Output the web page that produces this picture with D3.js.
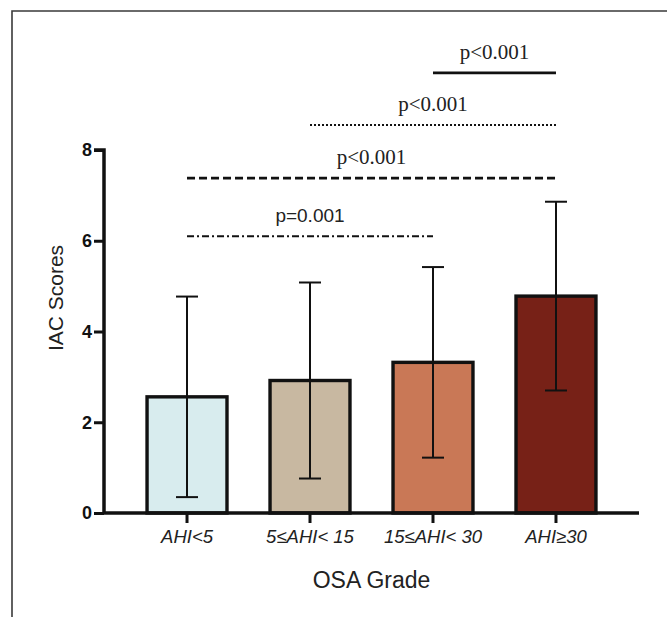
<!DOCTYPE html>
<html>
<head>
<meta charset="utf-8">
<script src="https://cdn.jsdelivr.net/npm/d3@7"></script>
<style>
  body { margin: 0; background: #fff; }
  svg { display: block; }
</style>
</head>
<body>
<svg id="chart" width="667" height="617"></svg>
<script>
// data
const categories = ['AHI<5', '5≤AHI< 15', '15≤AHI< 30', 'AHI≥30'];
const means = [2.56, 2.92, 3.32, 4.78];
const sds = [2.21, 2.16, 2.1, 2.08];
const barColors = ['#d8ecee', '#c8b8a1', '#c97856', '#772117'];
const yTicks = [0, 2, 4, 6, 8];

// significance brackets: from bar, to bar, height (in score units), label
const compFrom = [0, 0, 1, 2];
const compTo = [2, 3, 3, 3];
const compLevel = [6.1, 7.38, 8.55, 9.7];
const compLabels = ['p=0.001', 'p<0.001', 'p<0.001', 'p<0.001'];

const width = 667;
const height = 617;
const margin = { top: 150, right: 28, bottom: 104, left: 104 };

const svg = d3.select('#chart');

// outer frame (top and left edges only)
svg.append('path')
  .attr('d', 'M12,617 L12,11 L667,11')
  .attr('fill', 'none')
  .attr('stroke', '#3a3a3a')
  .attr('stroke-width', 1.6);

const x = d3.scaleBand()
  .domain(categories)
  .range([margin.left, width - margin.right])
  .padding(0.35);

const y = d3.scaleLinear()
  .domain([0, 8])
  .range([height - margin.bottom, margin.top]);

// bars
svg.selectAll('.bar')
  .data(categories)
  .enter()
  .append('rect')
  .attr('class', 'bar')
  .attr('x', d => x(d))
  .attr('y', (d, i) => y(means[i]))
  .attr('width', x.bandwidth())
  .attr('height', (d, i) => y(0) - y(means[i]))
  .attr('fill', (d, i) => barColors[i])
  .attr('stroke', '#111')
  .attr('stroke-width', 3.4);

// error bars
const err = svg.selectAll('.err')
  .data(categories)
  .enter()
  .append('g')
  .attr('class', 'err')
  .attr('transform', d => `translate(${x(d) + x.bandwidth() / 2},0)`)
  .attr('stroke', '#111')
  .attr('stroke-width', 2);

err.append('line')
  .attr('y1', (d, i) => y(means[i] + sds[i]))
  .attr('y2', (d, i) => y(means[i] - sds[i]));
err.append('line')
  .attr('x1', -11).attr('x2', 11)
  .attr('y1', (d, i) => y(means[i] + sds[i]))
  .attr('y2', (d, i) => y(means[i] + sds[i]));
err.append('line')
  .attr('x1', -11).attr('x2', 11)
  .attr('y1', (d, i) => y(means[i] - sds[i]))
  .attr('y2', (d, i) => y(means[i] - sds[i]));

// axes
const yAxis = svg.append('g')
  .attr('transform', `translate(${margin.left},0)`)
  .call(d3.axisLeft(y).tickValues(yTicks).tickSize(10).tickPadding(2));
const xAxis = svg.append('g')
  .attr('transform', `translate(0,${y(0)})`)
  .call(d3.axisBottom(x).tickSize(10).tickPadding(7).tickSizeOuter(0));

[yAxis, xAxis].forEach(g => {
  g.select('.domain').attr('stroke', '#111').attr('stroke-width', 3.5);
  g.selectAll('.tick line').attr('stroke', '#111').attr('stroke-width', 3);
});
yAxis.select('.domain').attr('d', `M-10,${y(8)}H0V${y(0)}`);
xAxis.select('.domain').attr('d', `M${margin.left},0H${width - margin.right}`);

yAxis.selectAll('.tick text')
  .attr('font-family', 'Liberation Sans, Arial, sans-serif')
  .attr('font-size', 18)
  .attr('font-weight', 'bold')
  .attr('fill', '#111');
xAxis.selectAll('.tick text')
  .attr('font-family', 'Liberation Sans, Arial, sans-serif')
  .attr('font-size', 18.5)
  .attr('font-style', 'italic')
  .attr('fill', '#222');

// axis titles
svg.append('text')
  .attr('x', (margin.left + width - margin.right) / 2)
  .attr('y', 588)
  .attr('text-anchor', 'middle')
  .attr('font-family', 'Liberation Sans, Arial, sans-serif')
  .attr('font-size', 23)
  .attr('fill', '#222')
  .text('OSA Grade');

svg.append('text')
  .attr('transform', 'rotate(-90)')
  .attr('x', -298)
  .attr('y', 63)
  .attr('text-anchor', 'middle')
  .attr('font-family', 'Liberation Sans, Arial, sans-serif')
  .attr('font-size', 21)
  .attr('fill', '#222')
  .text('IAC Scores');

// significance brackets
const dashes = ['7,3,2,3', '8,4', '2,2', null];
const widths = [2, 2.8, 2, 2.8];
const labelFonts = ['Liberation Sans, Arial, sans-serif', 'Liberation Serif, Times New Roman, serif',
  'Liberation Serif, Times New Roman, serif', 'Liberation Serif, Times New Roman, serif'];

const comp = svg.selectAll('.comp')
  .data(compLabels)
  .enter()
  .append('g')
  .attr('class', 'comp');

const cx = i => x(categories[i]) + x.bandwidth() / 2;

comp.append('line')
  .attr('x1', (d, i) => cx(compFrom[i]))
  .attr('x2', (d, i) => cx(compTo[i]))
  .attr('y1', (d, i) => y(compLevel[i]))
  .attr('y2', (d, i) => y(compLevel[i]))
  .attr('stroke', '#111')
  .attr('stroke-width', (d, i) => widths[i])
  .attr('stroke-dasharray', (d, i) => dashes[i]);

comp.append('text')
  .attr('x', (d, i) => (cx(compFrom[i]) + cx(compTo[i])) / 2)
  .attr('y', (d, i) => y(compLevel[i]) - 14)
  .attr('text-anchor', 'middle')
  .attr('font-family', (d, i) => labelFonts[i])
  .attr('font-size', (d, i) => i === 0 ? 19 : 21)
  .attr('fill', '#222')
  .text(d => d);
</script>
</body>
</html>
